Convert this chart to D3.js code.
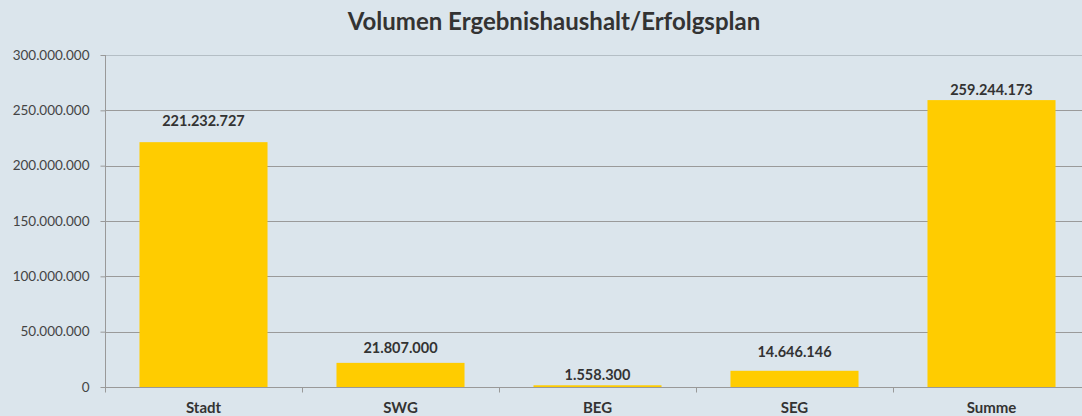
<!DOCTYPE html>
<html>
<head>
<meta charset="utf-8">
<script src="https://cdn.jsdelivr.net/npm/d3@7"></script>
<style>
  html, body { margin: 0; padding: 0; background: #dbe5ec; }
  svg { display: block; font-family: Lato, "Open Sans", sans-serif; }
</style>
</head>
<body>
<div id="chart"></div>
<script>
const categories = ['Stadt', 'SWG', 'BEG', 'SEG', 'Summe'];
const values = [221232727, 21807000, 1558300, 14646146, 259244173];
const yTicks = [0, 50000000, 100000000, 150000000, 200000000, 250000000, 300000000];
const title = 'Volumen Ergebnishaushalt/Erfolgsplan';

const width = 1082;
const height = 416;
const margin = { top: 55, right: -8, bottom: 29, left: 105 };
// gap between bar top and label baseline, as laid out in the original
const labelGap = [16, 10, 5, 14, 5];

const fmt = v => d3.format(',')(v).replace(/,/g, '.');

const svg = d3.select('#chart')
  .append('svg')
  .attr('width', width)
  .attr('height', height);

svg.append('rect')
  .attr('width', width)
  .attr('height', height)
  .attr('fill', '#dbe5ec');

const x = d3.scaleBand()
  .domain(categories)
  .range([margin.left, width - margin.right])
  .paddingInner(0.35)
  .paddingOuter(0.175);

const y = d3.scaleLinear()
  .domain([0, 300000000])
  .range([height - margin.bottom, margin.top]);

// gridlines
svg.append('g')
  .selectAll('line')
  .data(yTicks.filter(d => d > 0))
  .enter().append('line')
  .attr('x1', margin.left)
  .attr('x2', width)
  .attr('y1', d => Math.round(y(d)) + 0.5)
  .attr('y2', d => Math.round(y(d)) + 0.5)
  .attr('stroke', d => d === 300000000 ? '#b4bec5' : '#9a9a9a')
  .attr('stroke-width', 1);

// y axis
const yAxis = svg.append('g')
  .attr('transform', `translate(${margin.left + 0.5}, 0)`)
  .call(d3.axisLeft(y).tickValues(yTicks).tickFormat(fmt).tickSize(5).tickPadding(11));
yAxis.select('.domain').attr('stroke', '#999').attr('d', `M0,${y(300000000)}V${y(0)}`);
yAxis.selectAll('.tick line').attr('stroke', '#999');
yAxis.selectAll('.tick text')
  .attr('fill', '#444')
  .attr('font-size', 13.5)
  .attr('font-family', 'Lato, sans-serif');

// bars
svg.append('g')
  .selectAll('rect')
  .data(values)
  .enter().append('rect')
  .attr('x', (d, i) => x(categories[i]))
  .attr('y', d => y(d))
  .attr('width', x.bandwidth())
  .attr('height', d => y(0) - y(d))
  .attr('fill', '#ffcc00');

// x axis
const boundaries = categories.map(c => x(c) - x.step() * x.paddingInner() / 2);
const xAxis = svg.append('g')
  .attr('transform', `translate(0, ${Math.round(y(0)) + 0.5})`);
xAxis.append('line')
  .attr('x1', margin.left)
  .attr('x2', width)
  .attr('stroke', '#999');
xAxis.selectAll('.tk')
  .data(boundaries)
  .enter().append('line')
  .attr('class', 'tk')
  .attr('x1', d => Math.round(d) + 0.5)
  .attr('x2', d => Math.round(d) + 0.5)
  .attr('y1', 0)
  .attr('y2', 5)
  .attr('stroke', '#999');
xAxis.selectAll('text')
  .data(categories)
  .enter().append('text')
  .attr('x', d => x(d) + x.bandwidth() / 2)
  .attr('y', 25.5)
  .attr('text-anchor', 'middle')
  .attr('font-size', 15)
  .attr('font-weight', 'bold')
  .attr('fill', '#333')
  .text(d => d);

// value labels
svg.append('g')
  .selectAll('text')
  .data(values)
  .enter().append('text')
  .attr('x', (d, i) => x(categories[i]) + x.bandwidth() / 2)
  .attr('y', (d, i) => y(d) - labelGap[i])
  .attr('text-anchor', 'middle')
  .attr('font-size', 14.5)
  .attr('font-weight', 'bold')
  .attr('fill', '#333')
  .text(d => fmt(d));

// title
svg.append('text')
  .attr('x', 554)
  .attr('y', 30)
  .attr('text-anchor', 'middle')
  .attr('font-size', 24)
  .attr('font-weight', 'bold')
  .attr('fill', '#333')
  .text(title);
</script>
</body>
</html>
